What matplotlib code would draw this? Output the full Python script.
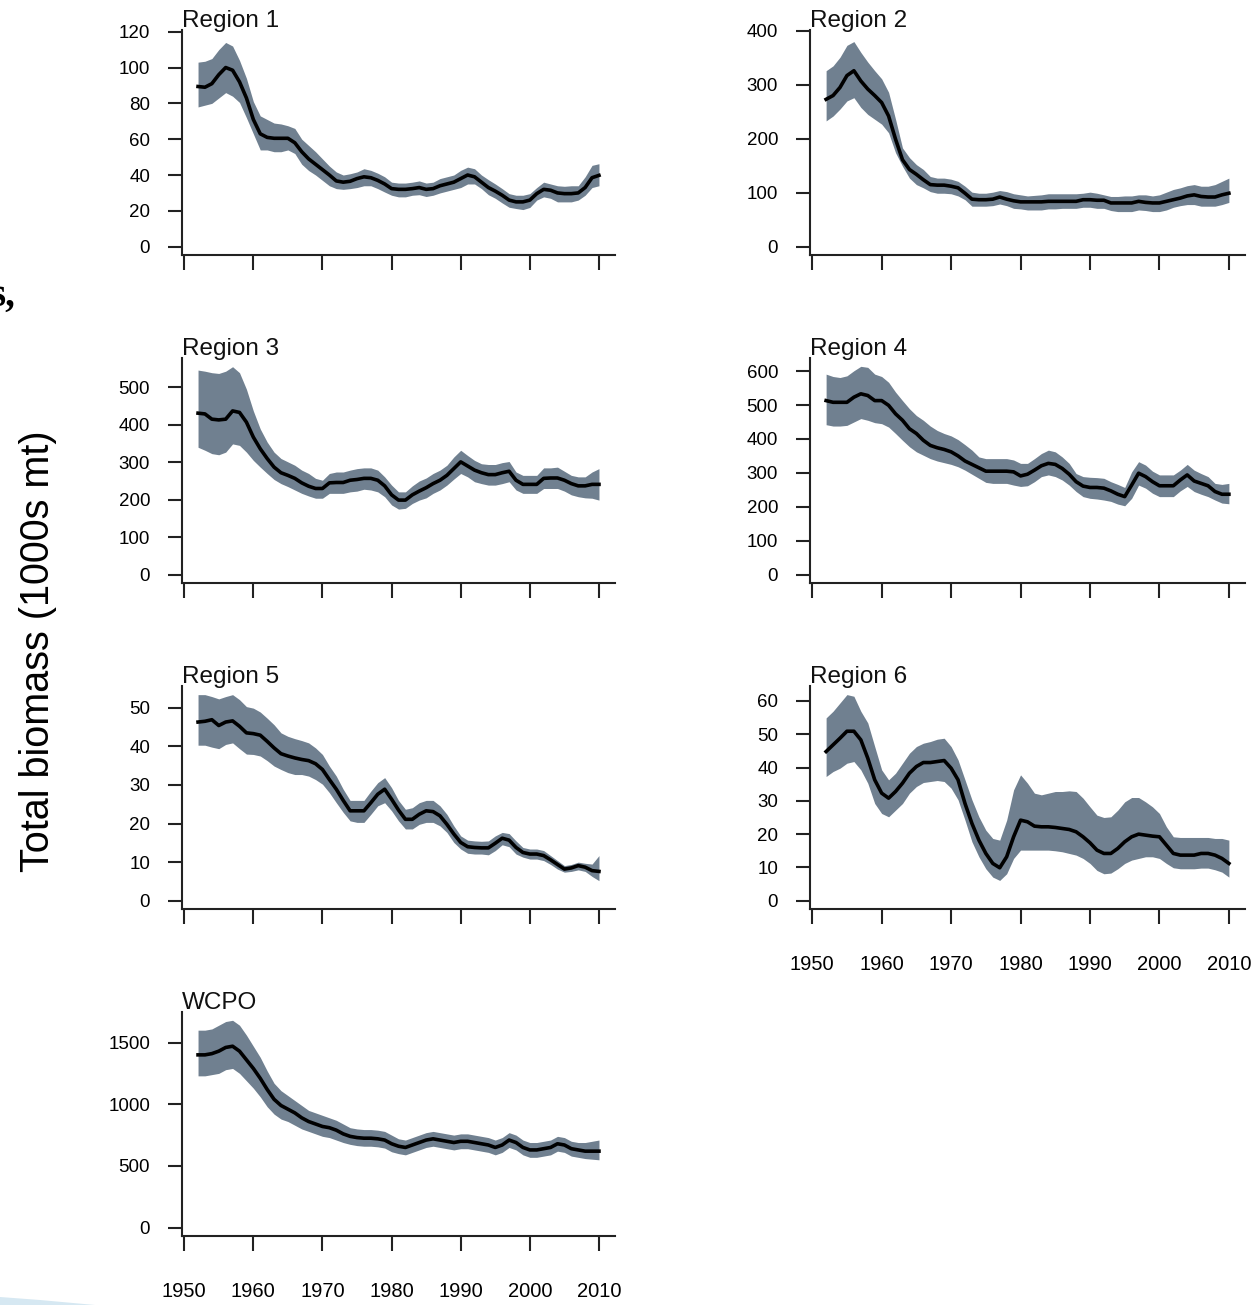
import numpy as np
import matplotlib
matplotlib.use('Agg')
import matplotlib.pyplot as plt
from matplotlib.patches import Polygon

plt.rcParams['font.family'] = ['Liberation Sans', 'DejaVu Sans']

# Роки (1952-2010)
years = np.arange(1952, 2011)

# Region 1
r1_mid = [89.4, 89, 91, 96, 100, 98.5, 92, 83, 71, 63,
          61, 60.5, 60.5, 60.5, 58, 53, 49, 46, 43, 40,
          36.7, 36, 36.5, 38, 39, 38.5, 37, 35, 32.4, 32,
          32, 32.4, 33, 32, 32.4, 34, 35, 36, 38, 40,
          39, 36, 33, 31, 28.7, 26, 25, 25, 26, 29.6,
          32, 31.5, 30, 29.6, 29.6, 30, 33, 38.5, 39.8]
r1_hi = [103, 103.5, 105, 110, 114, 112, 104, 94, 81, 73,
         71, 69, 68.5, 67.5, 66, 60, 56.5, 53, 49, 45,
         41.7, 40, 40.7, 41.7, 43.5, 42.6, 41, 39, 36, 35.5,
         35.5, 36, 36.7, 35.5, 36, 38, 39, 40, 42.6, 44.4,
         43.5, 40, 37.4, 35, 32.4, 29.6, 28.7, 28.7, 29.6, 33,
         36, 35, 34, 33.7, 34, 34, 39, 45.4, 46.3]
r1_lo = [78, 79, 80, 83, 86, 84, 80.5, 72, 63, 54,
         54, 53, 53, 54, 52, 46, 42.5, 40, 37, 34,
         32.4, 32, 32.4, 33, 34, 34, 32.4, 30.5, 28.7, 27.8,
         27.8, 28.7, 29, 28, 28.7, 30, 31, 32, 33, 35,
         35, 32.4, 29, 27, 24.4, 22, 21.3, 20.7, 21.9, 26,
         27.8, 27, 25, 25, 25, 26, 28.7, 33, 34]

# Region 2
r2_mid = [273, 280, 295, 317, 326, 307, 292, 280, 267, 242,
          199, 161, 143, 134, 124, 115, 114, 114, 112, 109,
          99, 88, 87, 87, 88, 92, 88, 85, 83, 83,
          83, 83, 84, 84, 84, 84, 84, 87, 87, 86,
          86, 81, 81, 81, 81, 84, 82, 81, 81, 84,
          87, 90, 94, 96, 93, 92, 92, 96, 99]
r2_hi = [326, 335, 351, 373, 380, 360, 342, 326, 311, 286,
         236, 183, 165, 152, 143, 130, 127, 127, 125, 121,
         112, 101, 99, 99, 101, 104, 102, 98, 96, 94,
         95, 96, 98, 98, 98, 98, 98, 99, 101, 99,
         96, 93, 93, 94, 94, 96, 96, 94, 96, 101,
         106, 109, 113, 115, 112, 112, 115, 121, 127]
r2_lo = [233, 242, 255, 270, 276, 258, 245, 236, 227, 211,
         174, 149, 127, 115, 109, 102, 99, 99, 98, 94,
         87, 75, 75, 75, 76, 79, 76, 71, 70, 68,
         68, 68, 70, 70, 71, 71, 71, 73, 73, 71,
         71, 67, 65, 65, 65, 68, 67, 65, 65, 68,
         73, 76, 78, 78, 75, 75, 75, 78, 82]

# Region 3
r3_mid = [431, 429, 415, 413, 415, 437, 433, 407, 367, 336,
          310, 287, 272, 265, 257, 245, 236, 230, 230, 245,
          246, 246, 252, 254, 257, 257, 252, 237, 213, 199,
          199, 213, 223, 232, 243, 252, 265, 283, 301, 290,
          279, 272, 267, 267, 272, 276, 252, 241, 241, 241,
          257, 258, 258, 252, 243, 237, 237, 241, 241]
r3_hi = [546, 543, 539, 537, 543, 555, 539, 495, 437, 389,
         354, 327, 310, 301, 292, 279, 270, 257, 252, 270,
         274, 274, 279, 283, 285, 285, 279, 261, 239, 221,
         221, 237, 250, 258, 270, 279, 292, 314, 332, 318,
         305, 296, 294, 294, 299, 302, 274, 265, 265, 265,
         285, 285, 287, 276, 265, 261, 261, 274, 283]
r3_lo = [340, 332, 323, 320, 327, 349, 345, 327, 305, 287,
         270, 254, 243, 235, 226, 217, 210, 204, 204, 217,
         217, 217, 221, 223, 228, 226, 221, 208, 186, 175,
         177, 190, 199, 205, 217, 226, 239, 255, 270, 261,
         248, 243, 239, 239, 243, 248, 226, 217, 217, 217,
         230, 230, 230, 223, 213, 208, 205, 204, 199]

# Region 4
r4_mid = [513, 508, 508, 508, 523, 533, 528, 513, 513, 499,
          474, 455, 430, 416, 396, 381, 374, 369, 362, 350,
          335, 325, 315, 305, 305, 305, 305, 303, 291, 296,
          308, 321, 328, 325, 313, 296, 274, 261, 257, 257,
          255, 247, 237, 230, 264, 299, 289, 274, 262, 262,
          262, 279, 294, 276, 269, 262, 245, 237, 237]
r4_hi = [591, 584, 581, 586, 601, 614, 611, 591, 584, 567,
         538, 513, 489, 469, 455, 438, 425, 416, 409, 398,
         383, 367, 347, 342, 342, 342, 342, 338, 328, 328,
         342, 357, 367, 362, 347, 328, 298, 289, 287, 286,
         284, 274, 266, 257, 303, 333, 323, 305, 294, 294,
         294, 308, 325, 308, 298, 289, 269, 266, 269]
r4_lo = [442, 438, 438, 440, 450, 460, 455, 448, 445, 435,
         416, 396, 377, 362, 352, 342, 335, 330, 325, 318,
         308, 296, 284, 272, 269, 269, 269, 264, 260, 262,
         274, 289, 294, 289, 279, 264, 245, 230, 225, 223,
         220, 216, 208, 203, 225, 264, 255, 240, 230, 230,
         230, 247, 260, 245, 237, 230, 220, 211, 209]

# Region 5
r5_mid = [46.3, 46.5, 46.9, 45.4, 46.3, 46.6, 45.2, 43.5, 43.3, 42.9,
          41.3, 39.6, 38.1, 37.5, 37, 36.6, 36.3, 35.5, 34, 31.4,
          28.9, 26, 23.3, 23.3, 23.3, 25.4, 27.6, 28.9, 26.3, 23.5,
          21.1, 21.1, 22.4, 23.3, 23.1, 22, 19.8, 17.3, 15.1, 14,
          13.8, 13.7, 13.7, 14.9, 16.2, 15.7, 13.8, 12.5, 12.1, 12.1,
          11.7, 10.6, 9.4, 8.2, 8.5, 9.1, 8.7, 7.8, 7.6]
r5_hi = [53.4, 53.4, 52.9, 52.3, 52.9, 53.4, 52.1, 50.3, 49.9, 48.9,
         47.3, 45.6, 43.5, 42.6, 42, 41.5, 40.9, 39.6, 37.9, 34.9,
         32.3, 28.9, 26, 26, 26, 28.4, 30.6, 31.9, 29.3, 26,
         23.7, 24.1, 25.4, 26, 26, 24.6, 22.4, 19.4, 16.8, 15.7,
         15.5, 15.4, 15.5, 16.8, 17.7, 17.4, 15.5, 13.8, 13.4, 13.4,
         13, 11.7, 10.4, 9.1, 9.4, 10, 9.7, 9.5, 11.7]
r5_lo = [40.3, 40.3, 39.8, 39.4, 40.5, 40.9, 39.4, 38, 37.9, 37.5,
         36.3, 34.9, 34, 33.2, 32.7, 32.7, 32.3, 31.4, 30.2, 28,
         25.4, 22.9, 20.7, 20.3, 20.3, 22.4, 24.6, 25.4, 23.3, 20.7,
         18.6, 18.6, 19.8, 20.3, 20.3, 19.4, 17.7, 15.1, 13.4, 12.3,
         12.1, 12.1, 11.9, 13, 14.5, 14, 12.1, 11.3, 10.8, 10.8,
         10.4, 9.4, 8.2, 7.4, 7.6, 8, 7.6, 6.3, 5.2]

# Region 6
r6_mid = [44.8, 46.8, 48.8, 50.9, 50.9, 48.3, 42.8, 36.3, 32.3, 30.8,
          32.8, 35.3, 38.3, 40.3, 41.5, 41.5, 41.8, 42.1, 39.8, 36.3,
          29.2, 23.2, 18.2, 14.2, 11.2, 9.9, 13.2, 19.2, 24.2, 23.7,
          22.4, 22.2, 22.2, 22, 21.7, 21.4, 20.7, 19.2, 17.4, 15.2,
          14.2, 14.2, 15.7, 17.7, 19.2, 20, 19.7, 19.4, 19.2, 16.7,
          14.2, 13.7, 13.7, 13.7, 14.2, 14.2, 13.7, 12.7, 11.2]
r6_hi = [54.9, 56.9, 59.4, 61.9, 61.4, 56.9, 53.4, 46.3, 39.3, 36.3,
         38.3, 41.3, 44.3, 46.3, 47.3, 47.8, 48.5, 48.8, 46.3, 42.3,
         36.3, 30.3, 25.2, 21.2, 18.7, 18.2, 24.2, 33.3, 37.8, 35.3,
         32.3, 31.8, 32.3, 32.8, 32.8, 33, 32.8, 30.8, 28.2, 25.7,
         25, 25.2, 27.2, 29.7, 31, 31, 29.7, 28.2, 26.2, 22.2,
         19.2, 19, 19, 19, 19, 19, 18.7, 18.7, 18.2]
r6_lo = [37.3, 38.8, 39.8, 41.3, 41.8, 39.3, 35.3, 29.2, 26.2, 25.2,
         27.2, 29.2, 32.3, 34.3, 35.5, 35.8, 36.1, 35.8, 33.8, 30.3,
         24.2, 17.7, 13.2, 9.6, 7.1, 6.1, 8.1, 12.7, 15.2, 15.2,
         15.2, 15.2, 15.2, 15, 14.7, 14.2, 13.7, 12.7, 11.2, 9.1,
         8.1, 8.3, 9.6, 11.2, 12.2, 12.7, 13.2, 13.2, 12.7, 11.2,
         9.9, 9.6, 9.6, 9.6, 9.8, 9.8, 9.3, 8.6, 7.1]

# WCPO
w_mid = [1400, 1400, 1410, 1430, 1460, 1470, 1430, 1360, 1290, 1210,
         1120, 1040, 990, 960, 930, 890, 860, 840, 820, 810,
         790, 760, 740, 730, 725, 725, 720, 710, 680, 660,
         650, 670, 690, 710, 720, 710, 700, 690, 700, 700,
         690, 680, 670, 650, 670, 710, 690, 650, 630, 630,
         640, 650, 680, 670, 640, 630, 620, 620, 620]
w_hi = [1600, 1600, 1610, 1640, 1670, 1680, 1640, 1560, 1470, 1380,
        1270, 1170, 1110, 1070, 1030, 990, 950, 930, 910, 890,
        870, 840, 810, 800, 795, 795, 790, 780, 750, 720,
        710, 730, 750, 770, 780, 770, 760, 750, 760, 760,
        750, 740, 730, 710, 730, 770, 750, 710, 690, 690,
        700, 710, 740, 730, 700, 690, 690, 700, 710]
w_lo = [1230, 1230, 1240, 1250, 1280, 1290, 1250, 1190, 1130, 1060,
        980, 920, 880, 860, 830, 800, 780, 760, 740, 730,
        710, 690, 675, 665, 660, 660, 655, 645, 615, 600,
        590, 610, 630, 650, 660, 650, 640, 630, 640, 640,
        630, 620, 610, 590, 610, 650, 630, 590, 570, 570,
        580, 590, 620, 610, 580, 570, 560, 555, 550]

titles = ['Region 1', 'Region 2', 'Region 3', 'Region 4', 'Region 5', 'Region 6', 'WCPO']
mids = [r1_mid, r2_mid, r3_mid, r4_mid, r5_mid, r6_mid, w_mid]
his = [r1_hi, r2_hi, r3_hi, r4_hi, r5_hi, r6_hi, w_hi]
los = [r1_lo, r2_lo, r3_lo, r4_lo, r5_lo, r6_lo, w_lo]
ytick_max = [120, 400, 500, 600, 50, 60, 1500]
ytick_step = [20, 100, 100, 100, 10, 10, 500]
ytop = [116.3, 386, 556, 614, 53.5, 62, 1680]
xticks = [1950, 1960, 1970, 1980, 1990, 2000, 2010]

# Розміщення панелей (у пікселях)
W, H = 1259, 1305
cols = [(182, 615), (810, 1245)]
rows = [(30, 255), (358, 583), (686, 909), (1012, 1236)]

fig = plt.figure(figsize=(W / 100, H / 100), dpi=100)

band_color = '#708090'
span = years[-1] - years[0]

for i in range(7):
    c = i % 2
    r = i // 2
    x0, x1 = cols[c]
    y0, y1 = rows[r]
    ax = fig.add_axes([x0 / W, 1 - y1 / H, (x1 - x0) / W, (y1 - y0) / H])

    ax.fill_between(years, los[i], his[i], color=band_color, lw=0)
    ax.plot(years, mids[i], color='black', lw=2.6)

    ax.set_xlim(years[0] - 0.04 * span, years[-1] + 0.04 * span)
    ax.set_ylim(-0.04 * ytop[i], 1.04 * ytop[i])
    ax.set_yticks(np.arange(0, ytick_max[i] + 1, ytick_step[i]))
    ax.set_xticks(xticks)

    for s in ['top', 'right']:
        ax.spines[s].set_visible(False)
    for s in ['left', 'bottom']:
        ax.spines[s].set_linewidth(1.5)
        ax.spines[s].set_color('#222222')

    ax.tick_params(axis='y', direction='out', length=10, width=1.5, color='#222222',
                   labelsize=13.5, pad=13)
    ax.tick_params(axis='x', direction='out', length=11, width=1.5, color='#222222',
                   labelsize=14.5, pad=22)
    if i not in (5, 6):
        ax.tick_params(axis='x', labelbottom=False)

    # Назва панелі
    fig.text(x0 / W, 1 - (y0 - 3) / H, titles[i], fontsize=17.5,
             ha='left', va='baseline', color='#111111')

# Підпис осі Y
fig.text(38 / W, 1 - 651 / H, 'Total biomass (1000s mt)', rotation=90,
         fontsize=28.5, ha='center', va='center')

# Обрізаний текст зліва
fig.text(16 / W, 1 - 306 / H, 's,', fontsize=28, fontweight='bold',
         family='Liberation Serif', ha='right', va='baseline')

# Світло-блакитна смуга внизу
swoosh = Polygon([[0, 1 - 1297 / H], [40 / W, 1 - 1300 / H], [95 / W, 0], [0, 0]],
                 closed=True, transform=fig.transFigure, color='#d6e8f2', lw=0)
fig.patches.append(swoosh)

plt.savefig('out.png', dpi=100)
